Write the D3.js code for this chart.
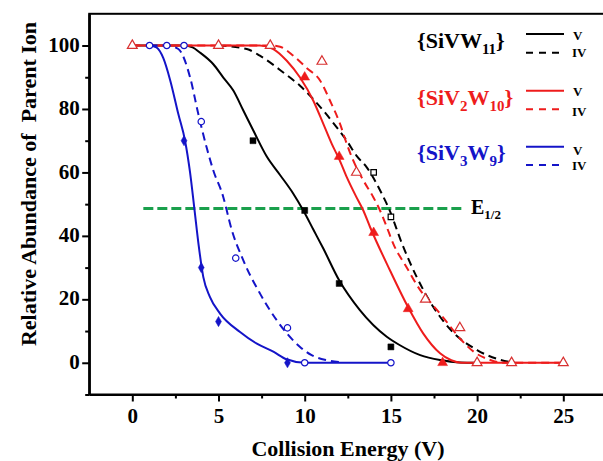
<!DOCTYPE html>
<html><head><meta charset="utf-8">
<script src="https://cdn.jsdelivr.net/npm/d3@7"></script>
<style>
body{margin:0;background:#fff}
svg{display:block}
text{font-family:"Liberation Serif","Times New Roman",serif;font-weight:bold}
</style>
</head><body>
<svg id="c" width="603" height="461"></svg>
<script>
// ---- tick values ----
const xTicks = [0, 5, 10, 15, 20, 25];
const yTicks = [0, 20, 40, 60, 80, 100];
const xMinor = [2.5, 7.5, 12.5, 17.5, 22.5];
const yMinor = [-10, 10, 30, 50, 70, 90];

// ---- measured points ----
const ptsSiVW11_V  = [[7,70],[10,48],[12,25],[15,5]];
const ptsSiVW11_IV = [[14,60],[15,46]];
const ptsSiV2W10_V  = [[10,90],[12,65],[14,41],[16,17],[18,0]];
const ptsSiV2W10_IV = [[0,100],[5,100],[8,100],[11,95],[13,60],[17,20],[19,11],[20,0],[22,0],[25,0]];
const ptsSiV3W9_V  = [[3,70],[4,30],[5,13],[9,0]];
const ptsSiV3W9_IV = [[1,100],[2,100],[3,100],[4,76],[6,33],[9,11],[10,0],[15,0]];

// ---- fitted curves ----
const fitSiVW11_V = [[0,100],[3,100],[3.5,99.4],[3.92,97.8],[4.7,94.1],[5.28,89.9],[5.86,85.8],[6.44,79.5],[7.02,73.2],[7.8,65],[8.57,59.2],[9.34,53.3],[9.92,48],[10.5,42],[11.08,36],[12,26],[13.2,16.6],[14.76,8.2],[15.5,5.6],[16.7,2.4],[17.85,0.85],[19,0.1],[20,0]];
const fitSiVW11_IV = [[5,100],[6.64,98.9],[7.4,96.8],[8.76,91.5],[9.73,87.3],[11.08,79.5],[11.86,74.2],[12.44,70],[13.0,65.3],[13.6,61.6],[14.47,53.3],[14.85,49],[15.72,36.5],[16.5,27],[17.46,17.6],[18.4,10.8],[20,4],[21.3,1],[22.2,0]];
const fitSiV2W10_V = [[0,100],[5,100],[7.4,100],[8.18,98.9],[8.96,95.2],[9.73,89.9],[10.5,82.6],[11.08,75.3],[11.57,69],[12.0,64.2],[12.44,58.5],[13.0,52.2],[13.4,48],[13.79,42.8],[14.95,29.1],[16.0,17.5],[16.88,9.2],[17.85,3],[18.5,0.8],[19.1,0],[25,0]];
const fitSiV2W10_IV = [[0,100],[8,100],[8.57,99.6],[9.34,96.8],[10.1,93],[10.9,88.9],[11.47,82.6],[12.05,75.3],[12.44,69],[12.82,63.7],[13.4,57.5],[13.98,52.2],[14.37,48],[14.76,42.8],[15.14,37.5],[15.9,30.2],[16.7,22.9],[17.3,19],[18.0,14.5],[19.1,7.1],[19.8,3.5],[20.7,1],[21.5,0],[25,0]];
const fitSiV3W9_V = [[1,100],[1.4,99.4],[1.8,96],[2.2,89],[2.67,78.4],[3.06,70],[3.35,60],[3.6,48.6],[3.85,37],[4.12,27],[4.5,20.8],[5.09,15.5],[6.25,9.7],[7.2,6.1],[8.18,3.5],[8.95,1.1],[10,0],[15,0]];
const fitSiV3W9_IV = [[1,100],[2,100],[2.67,98.9],[3.35,90],[3.83,78.4],[4.31,67.9],[4.7,60.6],[5.28,52.2],[5.48,48],[5.67,43.8],[6.44,32.3],[7.41,21.8],[8.38,13.4],[9.73,5],[10.4,2.4],[11.3,0.8],[12,0.2]];

const e12Level = 48.6;
const e12Range = [0.64, 19.2];

const colBlack = "#000000", colRed = "#ee1c1c", colBlue = "#1414c8", colGreen = "#1aa04c";

// ---- scales ----
const svg = d3.select("#c");
const x = d3.scaleLinear().domain([-2.5, 27.5]).range([89.2, 606.4]);
const y = d3.scaleLinear().domain([-10, 110]).range([394.5, 13.8]);

// frame
svg.append("rect").attr("x", x(-2.5)).attr("y", y(110))
  .attr("width", x(27.5) - x(-2.5)).attr("height", y(-10) - y(110))
  .attr("fill", "none").attr("stroke", "#000").attr("stroke-width", 2);

// axes
const gx = svg.append("g").attr("transform", `translate(0,${y(-10)})`)
  .call(d3.axisBottom(x).tickValues(xTicks).tickSize(7).tickSizeOuter(0).tickFormat(d3.format("d")));
const gxm = svg.append("g").attr("transform", `translate(0,${y(-10)})`)
  .call(d3.axisBottom(x).tickValues(xMinor).tickSize(4).tickSizeOuter(0).tickFormat(""));
const gy = svg.append("g").attr("transform", `translate(${x(-2.5)},0)`)
  .call(d3.axisLeft(y).tickValues(yTicks).tickSize(7).tickSizeOuter(0).tickFormat(d3.format("d")));
const gym = svg.append("g").attr("transform", `translate(${x(-2.5)},0)`)
  .call(d3.axisLeft(y).tickValues(yMinor).tickSize(4).tickSizeOuter(0).tickFormat(""));
[gx, gxm, gy, gym].forEach(g => {
  g.select(".domain").attr("stroke-width", 2);
  g.selectAll(".tick line").attr("stroke-width", 2);
});
gx.selectAll(".tick text").attr("y", 28.5).attr("dy", 0)
  .attr("font-size", 21).attr("font-family", '"Liberation Serif",serif').attr("font-weight", "bold");
gy.selectAll(".tick text").attr("x", -9.5).attr("dy", "0.27em")
  .attr("font-size", 21).attr("font-family", '"Liberation Serif",serif').attr("font-weight", "bold");

// axis titles
svg.append("text").attr("x", 348).attr("y", 456).attr("text-anchor", "middle")
  .attr("font-size", 22).text("Collision Energy (V)");
svg.append("text").attr("transform", "translate(36,184) rotate(-90)")
  .attr("text-anchor", "middle").attr("font-size", 22)
  .style("white-space", "pre").text("Relative Abundance of  Parent Ion");

// E1/2 line
svg.append("line").attr("x1", x(e12Range[0])).attr("x2", x(e12Range[1]))
  .attr("y1", y(e12Level)).attr("y2", y(e12Level))
  .attr("stroke", colGreen).attr("stroke-width", 3).attr("stroke-dasharray", "10,4");
const et = svg.append("text").attr("x", 471).attr("y", 214).attr("font-size", 20).attr("fill", "#000");
et.append("tspan").text("E");
et.append("tspan").attr("font-size", 13).attr("dy", 5).text("1/2");

// curves
const line = d3.line().x(d => x(d[0])).y(d => y(d[1])).curve(d3.curveMonotoneX);
function curve(data, col, dashed) {
  svg.append("path").attr("d", line(data)).attr("fill", "none")
    .attr("stroke", col).attr("stroke-width", 2)
    .attr("stroke-dasharray", dashed ? "8,5" : null);
}
curve(fitSiVW11_V, colBlack, false);
curve(fitSiVW11_IV, colBlack, true);
curve(fitSiV2W10_IV, colRed, true);
curve(fitSiV2W10_V, colRed, false);
curve(fitSiV3W9_IV, colBlue, true);
curve(fitSiV3W9_V, colBlue, false);

// markers
function marks(data, type, size, col, filled) {
  svg.append("g").selectAll("path").data(data).join("path")
    .attr("transform", d => `translate(${x(d[0])},${y(d[1])})`)
    .attr("d", d3.symbol().type(type).size(size))
    .attr("fill", filled ? col : "#fff")
    .attr("stroke", col).attr("stroke-width", filled ? 0.5 : 1.2);
}
marks(ptsSiVW11_V, d3.symbolSquare, 36, colBlack, true);
marks(ptsSiVW11_IV, d3.symbolSquare, 30, colBlack, false);
marks(ptsSiV2W10_V, d3.symbolTriangle, 42, colRed, true);
marks(ptsSiV2W10_IV, d3.symbolTriangle, 42, "#d83030", false);
marks(ptsSiV3W9_V, d3.symbolDiamond, 30, colBlue, true);
marks(ptsSiV3W9_IV, d3.symbolCircle, 32, colBlue, false);

// legend
const legendNames = [
  {parts: [["{SiVW", 0], ["11", 1], ["}", 0]], col: colBlack, base: 48, l1: 34, l2: 52.7, v: 40, iv: 57},
  {parts: [["{SiV", 0], ["2", 1], ["W", 0], ["10", 1], ["}", 0]], col: colRed, base: 105, l1: 90.7, l2: 109.3, v: 96, iv: 116},
  {parts: [["{SiV", 0], ["3", 1], ["W", 0], ["9", 1], ["}", 0]], col: colBlue, base: 160, l1: 146.7, l2: 165, v: 155, iv: 170}
];
legendNames.forEach(L => {
  const t = svg.append("text").attr("x", 417).attr("y", L.base).attr("font-size", 22).attr("fill", L.col);
  let sub = 0;
  L.parts.forEach(p => {
    const dy = p[1] === sub ? 0 : (p[1] ? 6 : -6);
    sub = p[1];
    t.append("tspan").attr("dy", dy).attr("font-size", p[1] ? 15 : 22).text(p[0]);
  });
  svg.append("line").attr("x1", 526).attr("x2", 564).attr("y1", L.l1).attr("y2", L.l1)
    .attr("stroke", L.col).attr("stroke-width", 2);
  svg.append("line").attr("x1", 526).attr("x2", 564).attr("y1", L.l2).attr("y2", L.l2)
    .attr("stroke", L.col).attr("stroke-width", 2).attr("stroke-dasharray", "7,6");
  svg.append("text").attr("x", 573).attr("y", L.v).attr("font-size", 13).text("V");
  svg.append("text").attr("x", 572).attr("y", L.iv).attr("font-size", 13).text("IV");
});
</script>
</body></html>
